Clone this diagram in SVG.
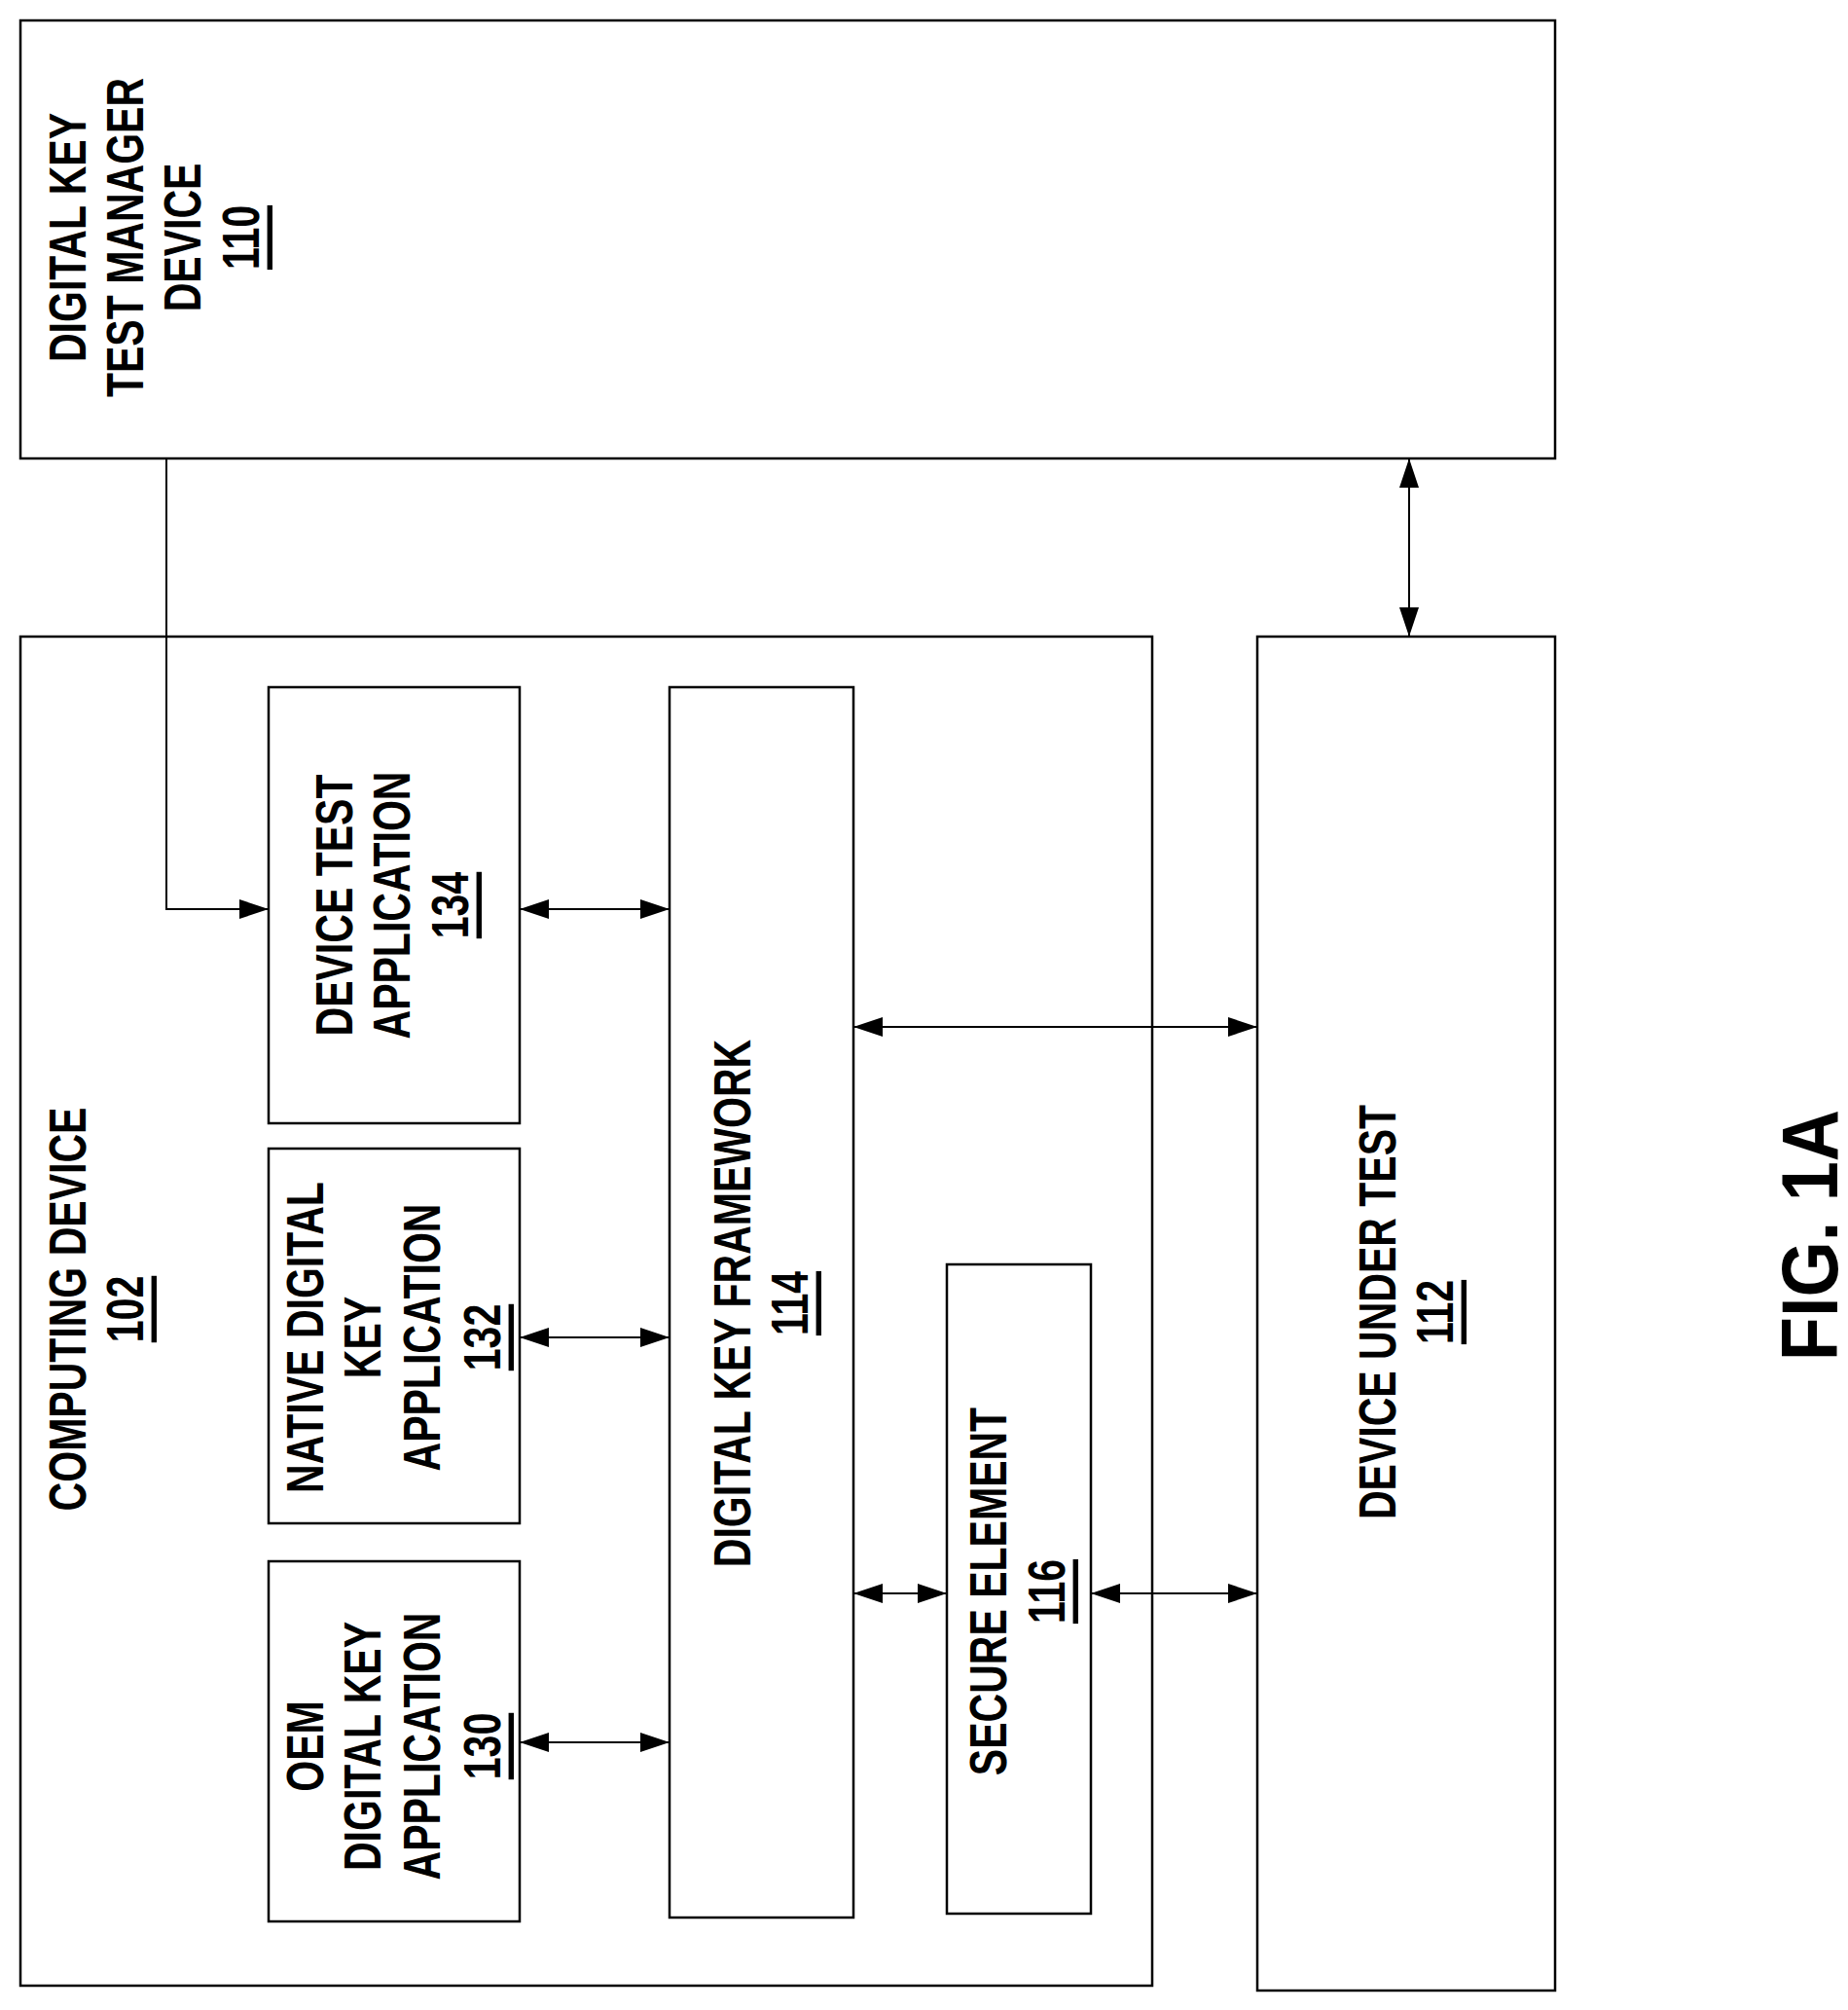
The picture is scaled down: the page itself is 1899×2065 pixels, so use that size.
<svg xmlns="http://www.w3.org/2000/svg" width="1899" height="2065" viewBox="0 0 1899 2065">
<style>
rect{fill:#fff;stroke:#000;stroke-width:2.5}
.c line,.c polyline{stroke:#000;stroke-width:2;fill:none}
text{font-family:"Liberation Sans",Arial,sans-serif;font-weight:bold;font-size:54px;text-anchor:middle;dominant-baseline:central}
.u{text-decoration:underline}
</style>
<defs>
<marker id="a" viewBox="0 0 30 20" refX="30" refY="10" markerWidth="30" markerHeight="20" markerUnits="userSpaceOnUse" orient="auto-start-reverse"><path d="M0,0L30,10L0,20z" fill="#000"/></marker>
</defs>
<rect width="1899" height="2065" style="fill:#fff;stroke:none"/>
<g id="n110"><rect x="21" y="21" width="1577" height="450"/>
<g transform="translate(0,244)">
<text transform="translate(69,0) rotate(-90) scale(0.76,1)">DIGITAL KEY</text>
<text transform="translate(128,0) rotate(-90) scale(0.76,1)">TEST MANAGER</text>
<text transform="translate(187,0) rotate(-90) scale(0.76,1)">DEVICE</text>
<text class="u" transform="translate(247,0) rotate(-90) scale(0.76,1)">110</text></g></g>
<g id="n102"><rect x="21" y="654" width="1163" height="1386"/>
<text transform="translate(69,1345) rotate(-90) scale(0.76,1)">COMPUTING DEVICE</text>
<text class="u" transform="translate(128,1345) rotate(-90) scale(0.76,1)">102</text></g>
<g id="n134"><rect x="276" y="706" width="258" height="448"/>
<text transform="translate(343,930) rotate(-90) scale(0.76,1)">DEVICE TEST</text>
<text transform="translate(402,930) rotate(-90) scale(0.76,1)">APPLICATION</text>
<text class="u" transform="translate(462,930) rotate(-90) scale(0.76,1)">134</text></g>
<g id="n132"><rect x="276" y="1180" width="258" height="385"/>
<text transform="translate(313,1374) rotate(-90) scale(0.76,1)">NATIVE DIGITAL</text>
<text transform="translate(372,1374) rotate(-90) scale(0.76,1)">KEY</text>
<text transform="translate(433,1374) rotate(-90) scale(0.76,1)">APPLICATION</text>
<text class="u" transform="translate(495,1374) rotate(-90) scale(0.76,1)">132</text></g>
<g id="n130"><rect x="276" y="1604" width="258" height="370"/>
<text transform="translate(313,1794) rotate(-90) scale(0.76,1)">OEM</text>
<text transform="translate(372,1794) rotate(-90) scale(0.76,1)">DIGITAL KEY</text>
<text transform="translate(433,1794) rotate(-90) scale(0.76,1)">APPLICATION</text>
<text class="u" transform="translate(495,1794) rotate(-90) scale(0.76,1)">130</text></g>
<g id="n114"><rect x="688" y="706" width="189" height="1264"/>
<text transform="translate(752,1339) rotate(-90) scale(0.76,1)">DIGITAL KEY FRAMEWORK</text>
<text class="u" transform="translate(811,1339) rotate(-90) scale(0.76,1)">114</text></g>
<g id="n116"><rect x="973" y="1299" width="148" height="667"/>
<text transform="translate(1015,1635) rotate(-90) scale(0.76,1)">SECURE ELEMENT</text>
<text class="u" transform="translate(1075,1635) rotate(-90) scale(0.76,1)">116</text></g>
<g id="n112"><rect x="1292" y="654" width="306" height="1391"/>
<text transform="translate(1415,1348) rotate(-90) scale(0.76,1)">DEVICE UNDER TEST</text>
<text class="u" transform="translate(1474,1348) rotate(-90) scale(0.76,1)">112</text></g>
<g id="fig"><text style="font-size:82px" transform="translate(1860,1269) rotate(-90) scale(0.9,1)">FIG. 1A</text></g>
<g class="c" id="connectors">
<polyline points="171,471 171,934 276,934" marker-end="url(#a)"/>
<line x1="1448" y1="471" x2="1448" y2="654" marker-start="url(#a)" marker-end="url(#a)"/>
<line x1="534" y1="934" x2="688" y2="934" marker-start="url(#a)" marker-end="url(#a)"/>
<line x1="534" y1="1374" x2="688" y2="1374" marker-start="url(#a)" marker-end="url(#a)"/>
<line x1="534" y1="1790" x2="688" y2="1790" marker-start="url(#a)" marker-end="url(#a)"/>
<line x1="877" y1="1055" x2="1292" y2="1055" marker-start="url(#a)" marker-end="url(#a)"/>
<line x1="877" y1="1637" x2="973" y2="1637" marker-start="url(#a)" marker-end="url(#a)"/>
<line x1="1121" y1="1637" x2="1292" y2="1637" marker-start="url(#a)" marker-end="url(#a)"/>
</g>
</svg>
